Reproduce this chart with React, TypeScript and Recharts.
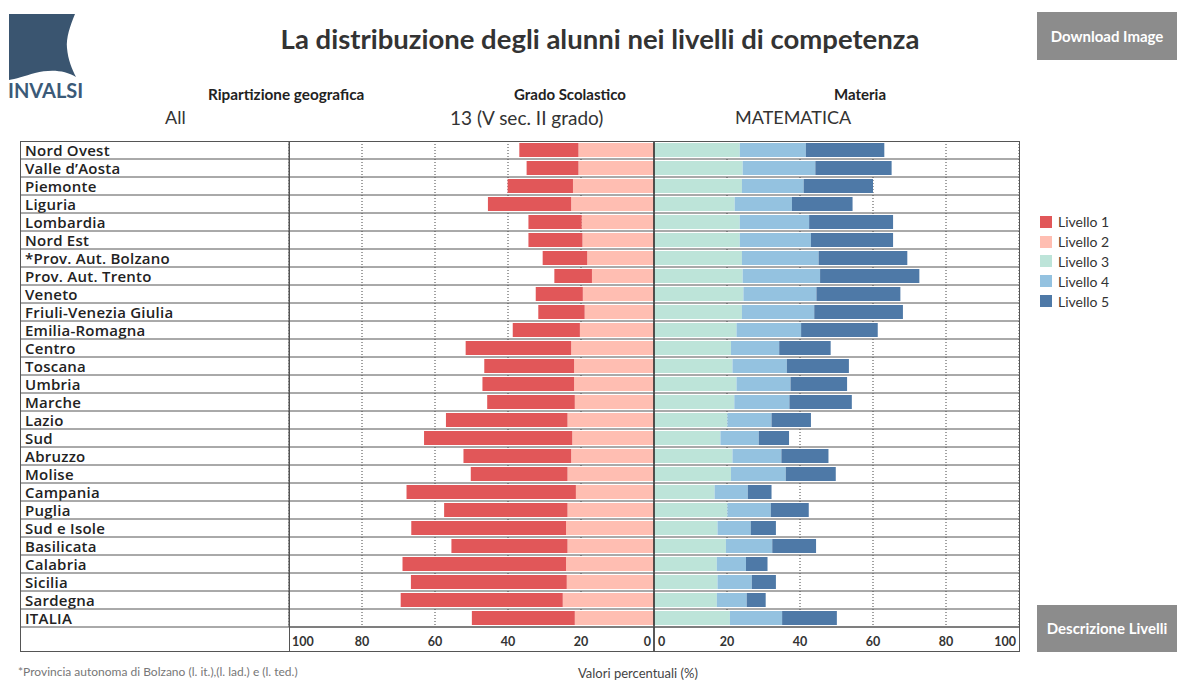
import React from "react";
import { BarChart, Bar, XAxis, YAxis, CartesianGrid, ReferenceLine } from "recharts";

const regions = [
  "Nord Ovest", "Valle d\u2019Aosta", "Piemonte", "Liguria", "Lombardia", "Nord Est",
  "*Prov. Aut. Bolzano", "Prov. Aut. Trento", "Veneto", "Friuli-Venezia Giulia",
  "Emilia-Romagna", "Centro", "Toscana", "Umbria", "Marche", "Lazio", "Sud", "Abruzzo",
  "Molise", "Campania", "Puglia", "Sud e Isole", "Basilicata", "Calabria", "Sicilia",
  "Sardegna", "ITALIA",
];

const livello1 = [16.2, 14.2, 17.9, 22.8, 14.6, 14.8, 12.2, 10.3, 12.9, 12.7, 18.4, 28.9, 24.6, 25.1, 24.0, 33.3, 40.6, 29.5, 26.5, 46.4, 33.8, 42.4, 31.8, 44.8, 42.7, 44.4, 28.2];
const livello2 = [20.7, 20.7, 22.2, 22.7, 19.8, 19.6, 18.3, 17.0, 19.5, 19.0, 20.3, 22.7, 21.9, 21.9, 21.7, 23.7, 22.4, 22.7, 23.7, 21.4, 23.7, 24.1, 23.7, 24.1, 23.9, 25.0, 21.7];
const livello3 = [23.5, 24.3, 24.1, 22.1, 23.5, 23.5, 24.1, 24.3, 24.5, 24.1, 22.6, 21.1, 21.5, 22.6, 22.0, 20.1, 18.2, 21.5, 21.1, 16.6, 20.1, 17.4, 19.7, 17.2, 17.4, 17.2, 20.8];
const livello4 = [18.1, 19.9, 16.9, 15.7, 19.0, 19.5, 21.0, 21.2, 20.0, 19.8, 17.7, 13.2, 14.9, 14.8, 15.1, 12.1, 10.5, 13.4, 15.0, 9.1, 11.9, 9.1, 12.7, 8.0, 9.4, 8.2, 14.3];
const livello5 = [21.5, 20.9, 19.0, 16.6, 23.0, 22.5, 24.3, 27.2, 23.0, 24.3, 21.0, 14.1, 17.0, 15.5, 17.1, 10.8, 8.3, 12.9, 13.7, 6.5, 10.4, 6.9, 12.0, 5.9, 6.6, 5.2, 15.0];

const xTicks = [-100, -80, -60, -40, -20, 0, 20, 40, 60, 80, 100];

const levelNames = ["Livello 1", "Livello 2", "Livello 3", "Livello 4", "Livello 5"];
const levelColors = ["#e15759", "#ffbeb2", "#bde4d9", "#94c2e0", "#4e79a7"];

// layout
const W = 1177;
const H = 682;
const FRAME_L = 20;
const FRAME_R = 1019;
const PLOT_TOP = 141;
const PLOT_BOTTOM = 627;
const FRAME_BOTTOM = 651;
const LABEL_W = 269;
const ROW_H = (PLOT_BOTTOM - PLOT_TOP) / regions.length;
const FONT = "Lato, 'Open Sans', sans-serif";
const LABEL_FONT = "'Open Sans', Lato, sans-serif";

const data = regions.map((region, i) => ({
  region,
  l1: -livello1[i],
  l2: -livello2[i],
  l3: livello3[i],
  l4: livello4[i],
  l5: livello5[i],
}));

const RegionTick = (props: any) => {
  const { y, payload } = props;
  const lineY = y + ROW_H / 2;
  return (
    <g>
      <text x={FRAME_L + 5} y={y} dy={5.5} fontFamily={LABEL_FONT} fontWeight={600} fontSize={15} letterSpacing={0.25} fill="#222" textAnchor="start">
        {payload.value}
      </text>
      <line x1={FRAME_L} x2={FRAME_R} y1={lineY} y2={lineY} stroke="#555" strokeWidth={1} />
    </g>
  );
};

const ValueTick = (props: any) => {
  const { x, payload } = props;
  const v = payload.value;
  const ty = 646;
  const common = { fontFamily: FONT, fontWeight: 700, fontSize: 12.5, fill: "#333" };
  if (v === 0) {
    return (
      <g>
        <text x={x - 3} y={ty} textAnchor="end" {...common}>0</text>
        <text x={x + 4} y={ty} textAnchor="start" {...common}>0</text>
        <line x1={x} x2={x} y1={PLOT_BOTTOM} y2={FRAME_BOTTOM} stroke="#222" strokeWidth={1.5} />
      </g>
    );
  }
  const anchor = v === -100 ? "start" : v === 100 ? "end" : "middle";
  const dx = v === -100 ? 3 : v === 100 ? -3 : 0;
  return (
    <text x={x + dx} y={ty} textAnchor={anchor} {...common}>
      {Math.abs(v)}
    </text>
  );
};

const Logo = () => (
  <div style={{ position: "absolute", left: 0, top: 0 }}>
    <svg width={100} height={105}>
      <path
        d="M9,14 L75,14 C70,26 66,38 67,48 C68,60 72,69 76,77 C65,70 50,69 35,73 C25,76 15,79 9,80 Z"
        fill="#3a5570"
      />
      <text x={8} y={98} fontFamily={FONT} fontWeight={700} fontSize={20} fill="#3b5a78">INVALSI</text>
    </svg>
  </div>
);

const txt = (style: React.CSSProperties): React.CSSProperties => ({
  position: "absolute",
  fontFamily: FONT,
  whiteSpace: "nowrap",
  lineHeight: 1,
  ...style,
});

export default function App() {
  return (
    <div style={{ position: "absolute", left: 0, top: 0, width: W, height: H, background: "#fff", overflow: "hidden" }}>
      <Logo />
      <div style={txt({ left: 0, width: 1200, top: 25, textAlign: "center", fontSize: 27.5, fontWeight: 700, color: "#333" })}>
        La distribuzione degli alunni nei livelli di competenza
      </div>

      <div style={txt({ left: 1037, top: 12, width: 140, height: 48, background: "#8c8c8c", color: "#fff", fontSize: 15, fontWeight: 700, display: "flex", alignItems: "center", justifyContent: "center" })}>
        Download Image
      </div>
      <div style={txt({ left: 1037, top: 605, width: 140, height: 47, background: "#8c8c8c", color: "#fff", fontSize: 15, fontWeight: 700, display: "flex", alignItems: "center", justifyContent: "center" })}>
        Descrizione Livelli
      </div>

      <div style={txt({ left: 208, top: 87, fontSize: 15.3, fontWeight: 700, color: "#222" })}>Ripartizione geografica</div>
      <div style={txt({ left: 165, top: 108, fontSize: 18, color: "#333" })}>All</div>
      <div style={txt({ left: 514, top: 87, fontSize: 15, fontWeight: 700, color: "#222" })}>Grado Scolastico</div>
      <div style={txt({ left: 450, top: 108, fontSize: 19, color: "#333" })}>13 (V sec. II grado)</div>
      <div style={txt({ left: 834, top: 87, fontSize: 15, fontWeight: 700, color: "#222" })}>Materia</div>
      <div style={txt({ left: 735, top: 108, fontSize: 18, color: "#333" })}>MATEMATICA</div>

      <BarChart
        width={W}
        height={H}
        data={data}
        layout="vertical"
        stackOffset="sign"
        margin={{ top: PLOT_TOP, right: W - FRAME_R, bottom: H - FRAME_BOTTOM, left: FRAME_L }}
        barSize={14}
        style={{ position: "absolute", left: 0, top: 0 }}
      >
        <CartesianGrid horizontal={false} vertical stroke="#444" strokeDasharray="1 2" />
        <XAxis
          type="number"
          domain={[-100, 100]}
          ticks={xTicks}
          interval={0}
          tick={<ValueTick />}
          tickLine={false}
          axisLine={{ stroke: "#555" }}
          height={FRAME_BOTTOM - PLOT_BOTTOM}
        />
        <YAxis
          type="category"
          dataKey="region"
          width={LABEL_W}
          interval={0}
          tick={<RegionTick />}
          tickLine={false}
          axisLine={{ stroke: "#555" }}
        />
        <Bar dataKey="l2" name={levelNames[1]} stackId="a" fill={levelColors[1]} isAnimationActive={false} />
        <Bar dataKey="l1" name={levelNames[0]} stackId="a" fill={levelColors[0]} isAnimationActive={false} />
        <Bar dataKey="l3" name={levelNames[2]} stackId="a" fill={levelColors[2]} isAnimationActive={false} />
        <Bar dataKey="l4" name={levelNames[3]} stackId="a" fill={levelColors[3]} isAnimationActive={false} />
        <Bar dataKey="l5" name={levelNames[4]} stackId="a" fill={levelColors[4]} isAnimationActive={false} />
        <ReferenceLine x={0} stroke="#222" strokeWidth={1.5} />
      </BarChart>

      {/* outer frame and label column divider */}
      <div style={{ position: "absolute", left: FRAME_L, top: PLOT_TOP, width: FRAME_R - FRAME_L + 1, height: FRAME_BOTTOM - PLOT_TOP + 1, border: "1px solid #555", boxSizing: "border-box", pointerEvents: "none" }} />
      <div style={{ position: "absolute", left: FRAME_L + LABEL_W, top: PLOT_TOP, width: 1, height: FRAME_BOTTOM - PLOT_TOP, background: "#555" }} />

      {/* legend */}
      <div style={{ position: "absolute", left: 1040, top: 212 }}>
        {levelNames.map((name, i) => (
          <div key={name} style={{ display: "flex", alignItems: "center", height: 19.8, fontFamily: FONT, fontSize: 14, color: "#333" }}>
            <span style={{ width: 12, height: 12, background: levelColors[i], marginRight: 6, display: "inline-block" }} />
            {name}
          </div>
        ))}
      </div>

      <div style={txt({ left: 18, top: 666, fontSize: 12, color: "#777" })}>
        *Provincia autonoma di Bolzano (l. it.),(l. lad.) e (l. ted.)
      </div>
      <div style={txt({ left: 578, top: 667, fontSize: 13, color: "#444" })}>Valori percentuali (%)</div>
    </div>
  );
}
